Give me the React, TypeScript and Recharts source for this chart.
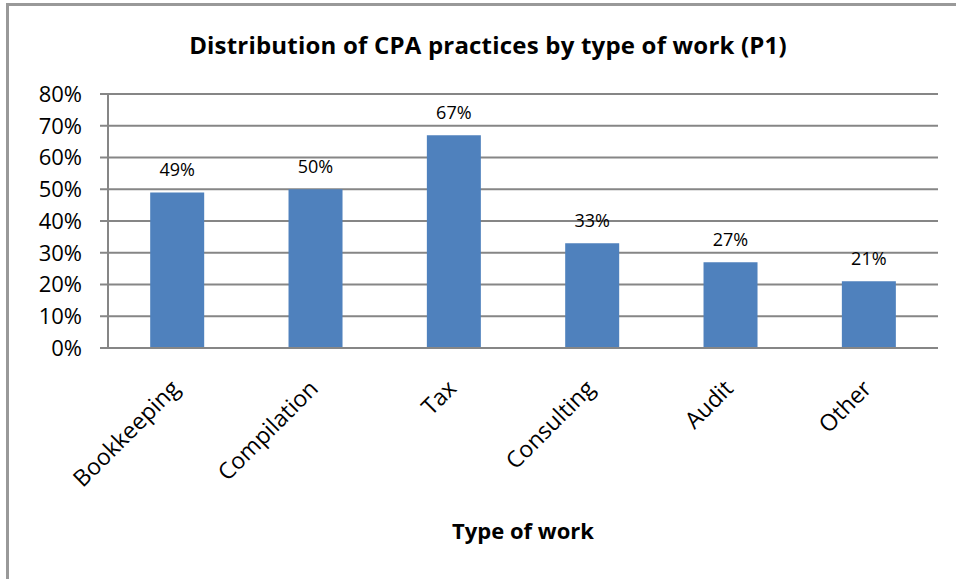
import React from 'react';
import { BarChart, Bar, XAxis, YAxis, CartesianGrid, LabelList } from 'recharts';

const categories = ['Bookkeeping', 'Compilation', 'Tax', 'Consulting', 'Audit', 'Other'];
const values = [49, 50, 67, 33, 27, 21];
const yTicks = [0, 10, 20, 30, 40, 50, 60, 70, 80];
const chartTitle = 'Distribution of CPA practices by type of work (P1)';
const xTitle = 'Type of work';

const data = categories.map((c, i) => ({ name: c, value: values[i] }));

const FONT = '"Open Sans", sans-serif';
const GRID = '#868686';

const XTick = (props: any) => {
  const { x, y, payload } = props;
  const tx = x + 4;
  const ty = y + 40;
  return (
    <text
      x={tx}
      y={ty}
      transform={`rotate(-45, ${tx}, ${ty})`}
      textAnchor="end"
      fontSize={23}
      fontFamily={FONT}
      fill="#000"
    >
      {payload.value}
    </text>
  );
};

export default function App() {
  return (
    <div style={{ position: 'absolute', left: 0, top: 0, width: 956, height: 579, background: '#fff', overflow: 'hidden', fontFamily: FONT }}>
      <div style={{ position: 'absolute', left: 6, top: 3, width: 960, height: 590, borderLeft: '3px solid #999', borderTop: '3px solid #999' }} />
      <div style={{ position: 'absolute', left: 10, top: 28, width: 956, textAlign: 'center', fontSize: 24, fontWeight: 700, color: '#000', lineHeight: '34px', letterSpacing: 0.2 }}>
        {chartTitle}
      </div>
      <div style={{ position: 'absolute', left: 108, top: 514, width: 830, textAlign: 'center', fontSize: 22, fontWeight: 700, color: '#000', lineHeight: '32px' }}>
        {xTitle}
      </div>
      <div style={{ position: 'absolute', left: 0, top: 0 }}>
        <BarChart width={956} height={579} data={data} margin={{ top: 94, right: 18, left: 0, bottom: 0 }} barCategoryGap="30.5%">
          <CartesianGrid vertical={false} stroke={GRID} strokeWidth={2} />
          <XAxis
            dataKey="name"
            height={231}
            tickLine={false}
            tickSize={0}
            axisLine={{ stroke: GRID, strokeWidth: 2 }}
            tick={<XTick />}
            interval={0}
          />
          <YAxis
            width={108}
            domain={[0, 80]}
            ticks={yTicks}
            tickFormatter={(v: number) => `${v}%`}
            tickSize={8}
            tickMargin={18}
            tickLine={{ stroke: GRID, strokeWidth: 2 }}
            axisLine={{ stroke: GRID, strokeWidth: 2 }}
            tick={{ fontSize: 22, fill: '#000', fontFamily: FONT }}
            interval={0}
          />
          <Bar dataKey="value" fill="#4F81BD" isAnimationActive={false}>
            <LabelList
              dataKey="value"
              position="top"
              offset={16}
              formatter={(v: any) => `${v}%`}
              style={{ fontSize: 18, fill: '#000', fontFamily: FONT }}
            />
          </Bar>
        </BarChart>
      </div>
    </div>
  );
}
